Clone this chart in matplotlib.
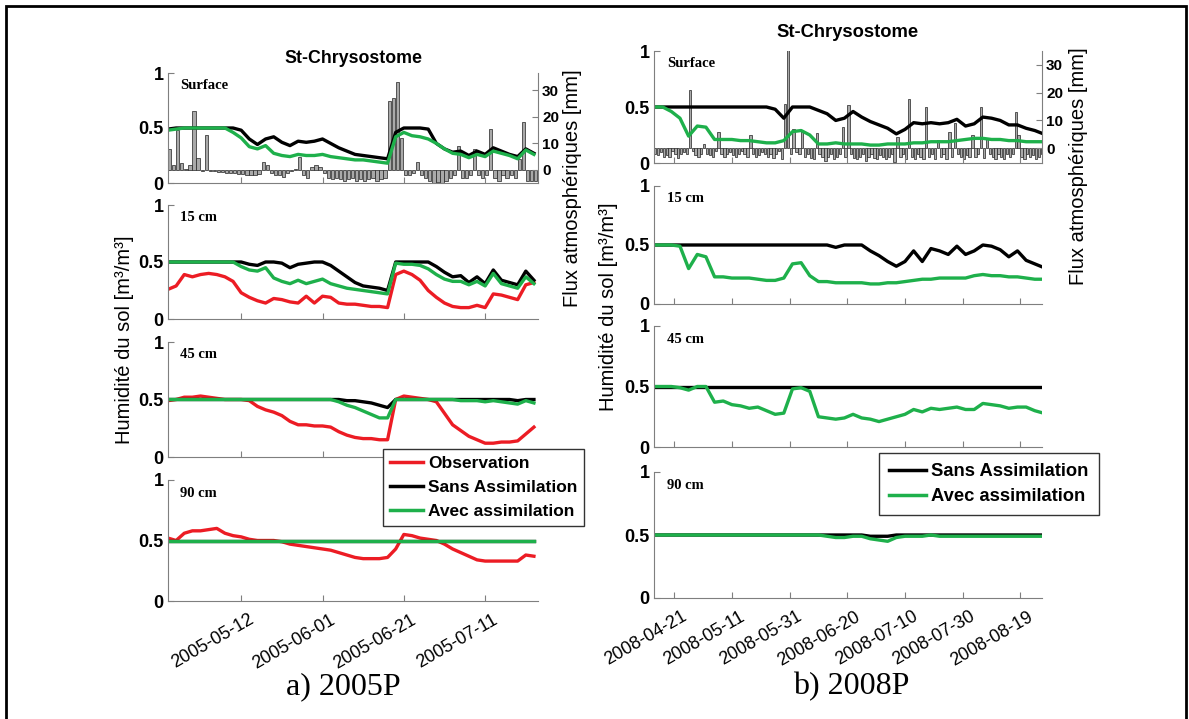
import numpy as np
import pandas as pd
import matplotlib
matplotlib.use('Agg')
import matplotlib.pyplot as plt
import matplotlib.dates as mdates
from matplotlib.patches import Rectangle
from matplotlib.lines import Line2D
from matplotlib.transforms import ScaledTranslation

plt.rcParams['font.family'] = ['Liberation Sans', 'DejaVu Sans']

# ---------------- 2005P : un point tous les 2 jours depuis 2005-04-24 ----------------
jours05 = pd.date_range('2005-04-24', periods=46, freq='2D')

surf05_sans = [0.49, 0.50, 0.50, 0.50, 0.50, 0.50, 0.50, 0.50, 0.50, 0.48,
               0.40, 0.35, 0.40, 0.42, 0.37, 0.34, 0.38, 0.37, 0.38, 0.40,
               0.36, 0.32, 0.29, 0.26, 0.25, 0.24, 0.23, 0.22, 0.46, 0.50,
               0.50, 0.50, 0.49, 0.36, 0.31, 0.28, 0.29, 0.25, 0.29, 0.26,
               0.32, 0.29, 0.26, 0.24, 0.31, 0.27]
surf05_avec = [0.48, 0.49, 0.50, 0.50, 0.50, 0.50, 0.50, 0.50, 0.46, 0.41,
               0.33, 0.31, 0.34, 0.27, 0.25, 0.24, 0.26, 0.25, 0.25, 0.26,
               0.24, 0.23, 0.22, 0.21, 0.21, 0.20, 0.19, 0.18, 0.42, 0.46,
               0.43, 0.42, 0.40, 0.36, 0.31, 0.27, 0.26, 0.23, 0.26, 0.24,
               0.29, 0.27, 0.25, 0.22, 0.30, 0.26]

p15_05_sans = [0.50, 0.50, 0.50, 0.50, 0.50, 0.50, 0.50, 0.50, 0.50, 0.50,
               0.48, 0.47, 0.50, 0.50, 0.49, 0.45, 0.48, 0.49, 0.50, 0.50,
               0.47, 0.42, 0.37, 0.32, 0.29, 0.28, 0.27, 0.25, 0.50, 0.50,
               0.50, 0.50, 0.50, 0.46, 0.41, 0.37, 0.38, 0.32, 0.37, 0.31,
               0.43, 0.34, 0.32, 0.30, 0.42, 0.34]
p15_05_avec = [0.50, 0.50, 0.50, 0.50, 0.50, 0.50, 0.50, 0.50, 0.50, 0.46,
               0.43, 0.42, 0.45, 0.36, 0.33, 0.31, 0.34, 0.31, 0.33, 0.35,
               0.31, 0.29, 0.27, 0.26, 0.25, 0.24, 0.23, 0.22, 0.49, 0.48,
               0.48, 0.47, 0.44, 0.39, 0.35, 0.33, 0.33, 0.30, 0.33, 0.29,
               0.40, 0.31, 0.29, 0.27, 0.37, 0.31]
p15_05_obs = [0.26, 0.29, 0.39, 0.37, 0.39, 0.40, 0.39, 0.37, 0.33, 0.23,
              0.19, 0.16, 0.14, 0.18, 0.17, 0.15, 0.14, 0.20, 0.14, 0.20,
              0.19, 0.14, 0.13, 0.13, 0.12, 0.11, 0.11, 0.10, 0.39, 0.42,
              0.39, 0.34, 0.25, 0.19, 0.14, 0.11, 0.10, 0.10, 0.12, 0.10,
              0.22, 0.21, 0.19, 0.17, 0.30, 0.32]

p45_05_sans = [0.50, 0.50, 0.50, 0.50, 0.50, 0.50, 0.50, 0.50, 0.50, 0.50,
               0.50, 0.50, 0.50, 0.50, 0.50, 0.50, 0.50, 0.50, 0.50, 0.50,
               0.50, 0.50, 0.49, 0.49, 0.48, 0.47, 0.45, 0.43, 0.50, 0.50,
               0.50, 0.50, 0.50, 0.50, 0.50, 0.50, 0.50, 0.50, 0.50, 0.50,
               0.50, 0.50, 0.50, 0.49, 0.50, 0.50]
p45_05_avec = [0.50, 0.50, 0.50, 0.50, 0.50, 0.50, 0.50, 0.50, 0.50, 0.50,
               0.50, 0.50, 0.50, 0.50, 0.50, 0.50, 0.50, 0.50, 0.50, 0.50,
               0.50, 0.48, 0.45, 0.43, 0.40, 0.37, 0.34, 0.34, 0.50, 0.50,
               0.50, 0.50, 0.50, 0.50, 0.50, 0.50, 0.49, 0.49, 0.49, 0.48,
               0.49, 0.48, 0.47, 0.46, 0.49, 0.47]
p45_05_obs = [0.49, 0.50, 0.52, 0.52, 0.53, 0.52, 0.51, 0.50, 0.50, 0.50,
              0.49, 0.44, 0.41, 0.39, 0.36, 0.31, 0.28, 0.28, 0.27, 0.27,
              0.26, 0.22, 0.19, 0.17, 0.16, 0.16, 0.15, 0.15, 0.50, 0.53,
              0.52, 0.51, 0.50, 0.48, 0.38, 0.28, 0.23, 0.18, 0.15, 0.12,
              0.12, 0.13, 0.13, 0.14, 0.20, 0.26]

p90_05_sans = [0.50] * 46   # constant sur toute la periode
p90_05_avec = [0.50] * 46
p90_05_obs = [0.52, 0.50, 0.56, 0.58, 0.58, 0.59, 0.60, 0.56, 0.54, 0.53,
              0.51, 0.50, 0.50, 0.50, 0.49, 0.47, 0.46, 0.45, 0.44, 0.43,
              0.42, 0.40, 0.38, 0.36, 0.35, 0.35, 0.35, 0.36, 0.43, 0.55,
              0.54, 0.52, 0.51, 0.50, 0.47, 0.43, 0.40, 0.37, 0.34, 0.33,
              0.33, 0.33, 0.33, 0.33, 0.38, 0.37]

# flux atmospheriques journaliers [mm] (pluie > 0, evaporation < 0)
flux05 = [8, 2, 15, 2.5, 0.5, 2, 22, 4.4, -0.5, 13,
          -0.3, -0.5, -0.6, -0.8, -1, -1, -1.2, -1.5, -1.5, -2,
          -2, -2, -1.5, 3, 2, -1, -2, -2, -2.5, -1,
          -0.5, 0.5, 5, -2, -3, 1, 2, 1, -1, -3,
          -3.5, -3, -3.5, -4, -3.5, -3, -4, -3.5, -4, -3.5,
          -3, -4, -3.5, -3, 26, 27, 33, 12, -2, -2,
          -1, 3, -2, -3, -4, -5, -4.5, -5, -4, -3,
          -2, 9, -3, -3, -2, 8, -2, -3, -2, 15.5,
          -3, -4, -2, -3, -2, -3, 4, 18, -4, -4,
          -4]
jflux05 = pd.date_range('2005-04-24', periods=len(flux05), freq='D')

# ---------------- 2008P : un point tous les 3 jours depuis 2008-04-14 ----------------
jours08 = pd.date_range('2008-04-14', periods=46, freq='3D')

surf08_sans = [0.50, 0.50, 0.50, 0.50, 0.50, 0.50, 0.50, 0.50, 0.50, 0.50,
               0.50, 0.50, 0.50, 0.50, 0.48, 0.40, 0.50, 0.50, 0.50, 0.47,
               0.44, 0.38, 0.40, 0.46, 0.41, 0.37, 0.34, 0.31, 0.26, 0.30,
               0.36, 0.35, 0.36, 0.35, 0.36, 0.39, 0.33, 0.35, 0.41, 0.40,
               0.38, 0.34, 0.34, 0.31, 0.29, 0.26]
surf08_avec = [0.50, 0.50, 0.46, 0.40, 0.24, 0.33, 0.32, 0.21, 0.21, 0.21,
               0.20, 0.20, 0.19, 0.18, 0.18, 0.20, 0.28, 0.29, 0.25, 0.17,
               0.17, 0.18, 0.17, 0.17, 0.17, 0.16, 0.16, 0.17, 0.17, 0.17,
               0.18, 0.18, 0.19, 0.19, 0.19, 0.20, 0.21, 0.22, 0.22, 0.21,
               0.21, 0.20, 0.20, 0.19, 0.19, 0.19]

p15_08_sans = [0.50, 0.50, 0.50, 0.50, 0.50, 0.50, 0.50, 0.50, 0.50, 0.50,
               0.50, 0.50, 0.50, 0.50, 0.50, 0.50, 0.50, 0.50, 0.50, 0.50,
               0.50, 0.48, 0.50, 0.50, 0.50, 0.45, 0.41, 0.36, 0.32, 0.36,
               0.45, 0.36, 0.47, 0.45, 0.42, 0.49, 0.42, 0.45, 0.50, 0.49,
               0.46, 0.40, 0.45, 0.37, 0.34, 0.31]
p15_08_avec = [0.50, 0.50, 0.50, 0.49, 0.30, 0.42, 0.40, 0.23, 0.23, 0.22,
               0.22, 0.22, 0.21, 0.20, 0.20, 0.22, 0.34, 0.35, 0.24, 0.19,
               0.19, 0.18, 0.18, 0.18, 0.18, 0.17, 0.17, 0.18, 0.18, 0.19,
               0.20, 0.21, 0.21, 0.22, 0.22, 0.22, 0.22, 0.24, 0.25, 0.24,
               0.24, 0.23, 0.23, 0.22, 0.21, 0.21]

p45_08_sans = [0.50] * 46
p45_08_avec = [0.50, 0.50, 0.50, 0.49, 0.47, 0.50, 0.50, 0.37, 0.38, 0.35,
               0.34, 0.32, 0.33, 0.30, 0.27, 0.28, 0.48, 0.49, 0.46, 0.25,
               0.24, 0.23, 0.24, 0.27, 0.24, 0.23, 0.21, 0.23, 0.25, 0.27,
               0.31, 0.29, 0.32, 0.31, 0.32, 0.33, 0.31, 0.31, 0.36, 0.35,
               0.34, 0.32, 0.33, 0.33, 0.30, 0.28]

p90_08_sans = [0.50, 0.50, 0.50, 0.50, 0.50, 0.50, 0.50, 0.50, 0.50, 0.50,
               0.50, 0.50, 0.50, 0.50, 0.50, 0.50, 0.50, 0.50, 0.50, 0.50,
               0.50, 0.50, 0.50, 0.50, 0.50, 0.49, 0.49, 0.49, 0.50, 0.50,
               0.50, 0.50, 0.50, 0.50, 0.50, 0.50, 0.50, 0.50, 0.50, 0.50,
               0.50, 0.50, 0.50, 0.50, 0.50, 0.50]
p90_08_avec = [0.50, 0.50, 0.50, 0.50, 0.50, 0.50, 0.50, 0.50, 0.50, 0.50,
               0.50, 0.50, 0.50, 0.50, 0.50, 0.50, 0.50, 0.50, 0.50, 0.50,
               0.49, 0.48, 0.48, 0.49, 0.49, 0.47, 0.46, 0.45, 0.48, 0.49,
               0.49, 0.49, 0.50, 0.49, 0.49, 0.49, 0.49, 0.49, 0.49, 0.49,
               0.49, 0.49, 0.49, 0.49, 0.49, 0.49]

flux08 = [-2, -2.5, -1.5, -3, -2.5, -3, -1, -2, -3.5, -2,
          -1.5, -2, 21, -1, -2.5, -3, -2, 1.5, -2, -2.5,
          -3, -1, 6, -2, -3, -2, -1.5, -2.5, -3, -2,
          -1, -2, -3, 4.8, -2, -3, -2.5, -1.5, -2, -3,
          -2, -3.5, -2, -1, -4, 16, 40, -2, 7, -1.5,
          -2, 6.6, -3, -2, -3.5, -4, 5.4, -2, -3, -4.5,
          -3, -2, -4, -3, -2, 7.8, -3, 15.6, -2, -3.5,
          -4, -3, -2, -4.5, -3, -2, -3.5, -4, -2.5, -3,
          -4, -3, -2, -5, 4.2, -3, -2, -4, 17.8, -3,
          -4, -2, -3, -4, 14.8, -3, -2, -4, 3, -3,
          -2, -4, 6, -3, 9, -2, -3, -4, -2.5, -3,
          4.8, -3, -2, 14.8, -3.5, 3.6, -2, -3, -4, -2,
          -3, -4, -2, -3, -2, 13.2, 4.8, -3, -4, -2,
          -3, -2.5, -4, -3, -2]
jflux08 = pd.date_range('2008-04-14', periods=len(flux08), freq='D')

ticks05 = pd.to_datetime(['2005-05-12', '2005-06-01', '2005-06-21', '2005-07-11'])
ticks08 = pd.to_datetime(['2008-04-21', '2008-05-11', '2008-05-31', '2008-06-20',
                          '2008-07-10', '2008-07-30', '2008-08-19'])
profondeurs = ['Surface', '15 cm', '45 cm', '90 cm']

ROUGE = '#ec1c24'
VERT = '#1eb04b'
GRIS = '#7f7f7f'
W, H = 1189, 719

fig = plt.figure(figsize=(W / 100, H / 100), dpi=100)


def axe_px(x0, y0, x1, y1):
    return fig.add_axes([x0 / W, 1 - y1 / H, (x1 - x0) / W, (y1 - y0) / H])


def panneau(box, xlim, ticks, nom, bas):
    ax = axe_px(*box)
    ax.set_xlim(xlim)
    ax.set_ylim(0, 1)
    ax.set_yticks([0, 0.5, 1])
    ax.set_yticklabels(['0', '0.5', '1'], fontweight='bold')
    ax.set_xticks(ticks)
    ax.xaxis.set_major_formatter(mdates.DateFormatter('%Y-%m-%d'))
    for s in ['top', 'right']:
        ax.spines[s].set_visible(False)
    for s in ['left', 'bottom']:
        ax.spines[s].set_color(GRIS)
    ax.tick_params(direction='in', length=4, color=GRIS, labelsize=13, pad=3)
    if bas:
        decal = ScaledTranslation(7 / 100, -6 / 100, fig.dpi_scale_trans)
        for t in ax.get_xticklabels():
            t.set_rotation(30)
            t.set_ha('right')
            t.set_rotation_mode('anchor')
            t.set_fontsize(13)
            t.set_transform(t.get_transform() + decal)
    else:
        ax.tick_params(labelbottom=False)
    ax.text(0.033, 0.89, nom, transform=ax.transAxes, va='center',
            family='Liberation Serif', fontweight='bold', fontsize=10.5)
    return ax


def barres(ax, jours, flux, ylim):
    tw = ax.twinx()
    tw.bar(jours, flux, width=0.8, align='edge', color='#a9a9a9',
           edgecolor='#222222', linewidth=0.5)
    tw.set_ylim(ylim)
    tw.set_yticks([0, 10, 20, 30])
    tw.set_yticklabels(['0', '10', '20', '30'], fontweight='bold')
    for s in ['top', 'left', 'bottom']:
        tw.spines[s].set_visible(False)
    tw.spines['right'].set_color(GRIS)
    tw.tick_params(direction='in', length=4, color=GRIS, labelsize=11, pad=3)
    ax.set_zorder(tw.get_zorder() + 1)
    ax.patch.set_visible(False)


LW = 2.4

# ---------------- a) 2005P ----------------
xlim05 = (pd.Timestamp('2005-04-24'), pd.Timestamp('2005-07-24'))
cadres05 = [(168, 73, 538, 183), (168, 205, 538, 319),
            (168, 342, 538, 457), (168, 480, 538, 601)]
sans05 = [surf05_sans, p15_05_sans, p45_05_sans, p90_05_sans]
avec05 = [surf05_avec, p15_05_avec, p45_05_avec, p90_05_avec]
obs05 = [None, p15_05_obs, p45_05_obs, p90_05_obs]
for i in range(4):
    ax = panneau(cadres05[i], xlim05, ticks05, profondeurs[i], i == 3)
    if i == 0:
        barres(ax, jflux05, flux05, (-4.9, 36.4))
        ax.set_title('St-Chrysostome', fontsize=12.8, fontweight='bold', pad=7.5)
    if obs05[i] is not None:
        ax.plot(jours05, obs05[i], color=ROUGE, lw=LW)
    ax.plot(jours05, sans05[i], color='k', lw=LW)
    ax.plot(jours05, avec05[i], color=VERT, lw=LW)

# ---------------- b) 2008P ----------------
xlim08 = (pd.Timestamp('2008-04-14'), pd.Timestamp('2008-08-26 12:00'))
cadres08 = [(654, 51, 1042, 163), (654, 186, 1042, 304),
            (654, 326, 1042, 447), (654, 472, 1042, 598)]
sans08 = [surf08_sans, p15_08_sans, p45_08_sans, p90_08_sans]
avec08 = [surf08_avec, p15_08_avec, p45_08_avec, p90_08_avec]
for i in range(4):
    ax = panneau(cadres08[i], xlim08, ticks08, profondeurs[i], i == 3)
    if i == 0:
        barres(ax, jflux08, flux08, (-5.3, 35.0))
        ax.set_title('St-Chrysostome', fontsize=13.2, fontweight='bold', pad=10)
    ax.plot(jours08, sans08[i], color='k', lw=LW)
    ax.plot(jours08, avec08[i], color=VERT, lw=LW)

# axis labels
lab = dict(rotation=90, ha='center', va='center', fontsize=14.5)
fig.text(125 / W, 1 - 340 / H, 'Humidité du sol [m³/m³]', **lab)
fig.text(609 / W, 1 - 307 / H, 'Humidité du sol [m³/m³]', **lab)
fig.text(572 / W, 1 - 188 / H, 'Flux atmosphériques [mm]', **lab)
fig.text(1078 / W, 1 - 166 / H, 'Flux atmosphériques [mm]', **lab)

# legends
h_obs = Line2D([], [], color=ROUGE, lw=2.5)
h_sans = Line2D([], [], color='k', lw=2.5)
h_avec = Line2D([], [], color=VERT, lw=2.5)
leg_kw = dict(loc='upper left', frameon=True, fancybox=False, edgecolor='#333333',
              framealpha=1, borderaxespad=0, handletextpad=0.3)
lg1 = fig.legend([h_obs, h_sans, h_avec], ['Observation', 'Sans Assimilation', 'Avec assimilation'],
                 bbox_to_anchor=(383 / W, 1 - 449 / H), handlelength=1.9,
                 labelspacing=0.5, borderpad=0.4,
                 prop={'size': 12.5, 'weight': 'bold'}, **leg_kw)
lg2 = fig.legend([h_sans, h_avec], ['Sans Assimilation', 'Avec assimilation'],
                 bbox_to_anchor=(879 / W, 1 - 453 / H), handlelength=2.0,
                 labelspacing=0.45, borderpad=0.55,
                 prop={'size': 13.2, 'weight': 'bold'}, **leg_kw)
for lg in (lg1, lg2):
    lg.get_frame().set_linewidth(1.0)

# captions
cap = dict(ha='center', va='baseline', family='Liberation Serif', fontsize=23)
fig.text(343 / W, 1 - 694 / H, 'a) 2005P', **cap)
fig.text(851 / W, 1 - 694 / H, 'b) 2008P', **cap)

# outer frame
fig.patches.append(Rectangle((6 / W, -0.01), 1180 / W, 1 - 6 / H + 0.01,
                             transform=fig.transFigure, fill=False, lw=2, ec='k'))

fig.savefig('out.png', dpi=100)
